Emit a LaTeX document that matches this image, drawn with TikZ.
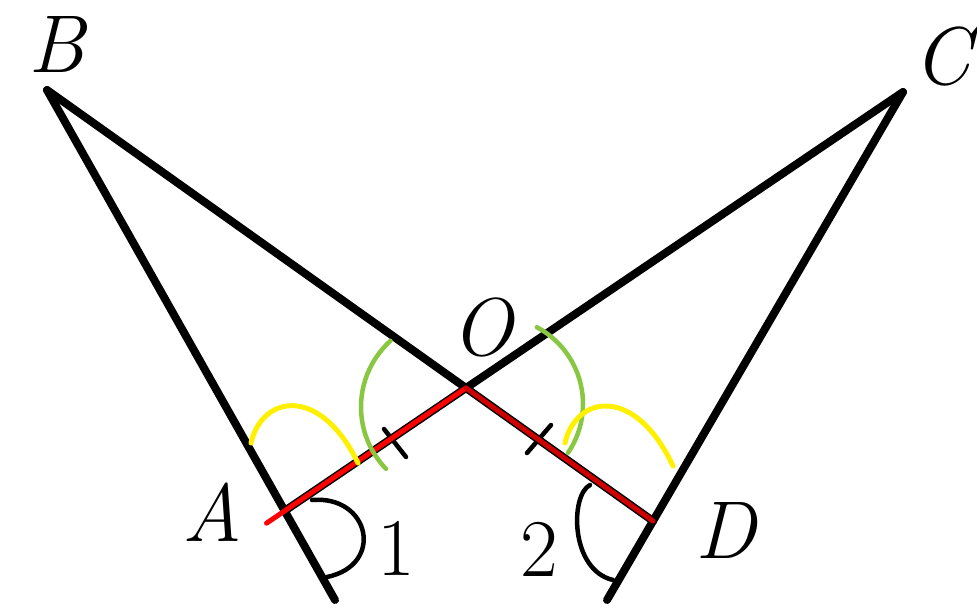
\documentclass[tikz,border=0pt]{standalone}
\usepackage{tikz}
\usetikzlibrary{calc}

\definecolor{markred}{RGB}{255,0,0}
\definecolor{markdark}{RGB}{204,0,0}
\definecolor{markgreen}{RGB}{137,199,67}
\definecolor{markyellow}{RGB}{255,240,0}

\begin{document}
\begin{tikzpicture}[x=1bp, y=1bp, line cap=round, line join=round,
    figline/.style={draw=black, line width=8bp},
    thinmark/.style={draw=black, line width=4.5bp},
    redline/.style={draw=#1, line width=5bp},
    greenarc/.style={draw=markgreen, line width=4.5bp},
    yellowarc/.style={draw=markyellow, line width=5bp},
    lbl/.style={inner sep=0pt, outer sep=0pt, font=\fontsize{82bp}{96bp}\selectfont}]
  \useasboundingbox (0,0) rectangle (977,-610);
  % points of the figure
  \coordinate (B) at (47,-90);
  \coordinate (C) at (903,-92);
  \coordinate (O) at (466,-388);
  \coordinate (endA) at (335,-600);
  \coordinate (endD) at (607,-600);
  \coordinate (A) at (intersection of B--endA and C--O);
  \coordinate (D) at (intersection of C--endD and B--O);
  \coordinate (redA) at ($(O)!1.1!(A)$);
  % black lines
  \path[figline] (B) -- (endA);
  \path[figline] (C) -- (endD);
  \path[figline] (B) -- (D);
  \path[figline] (C) -- (A);
  % equal marks on OA and OD
  \path[thinmark] (384,-429) -- (406,-457);
  \path[thinmark] (551,-425) -- (527,-453);
  % angles 1 and 2
  \path[thinmark] (312,-500) .. controls (370,-495) and (385,-565) .. (327,-577);
  \path[thinmark] (590,-485) .. controls (570,-495) and (570,-570) .. (613,-580);
  % coloured marks
  \path[redline=markred] (redA) -- (O);
  \path[redline=markdark] (O) -- (D);
  \path[greenarc] (450,-407) ++(132:89) arc[start angle=132, end angle=224, radius=89];
  \path[greenarc] (496,-404) ++(62:87) arc[start angle=62, end angle=-34, radius=87];
  \path[yellowarc] (251,-443) .. controls (262,-395) and (320,-385) .. (358,-463);
  \path[yellowarc] (565,-443) .. controls (576,-395) and (635,-385) .. (673,-466);
  % labels
  \node[lbl] (lblB) at (57,-44) {\itshape B};
  \node[lbl] (lblC) at (942,-56) {\itshape C};
  \node[lbl] (lblO) at (482,-327) {\itshape O};
  \node[lbl] (lblA) at (212,-512) {\itshape A};
  \node[lbl] (lblD) at (726,-530) {\itshape D};
  \node[lbl] (lbl1) at (396,-548) {1};
  \node[lbl] (lbl2) at (539,-549) {2};
\end{tikzpicture}
\end{document}
